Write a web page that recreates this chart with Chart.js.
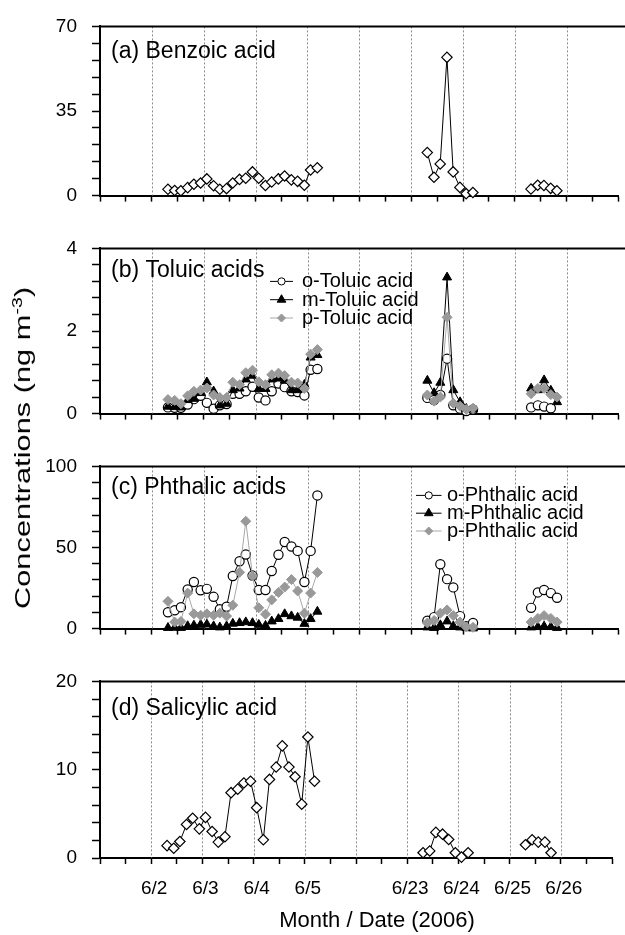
<!DOCTYPE html>
<html>
<head>
<meta charset="utf-8">
<title>Aromatic acids</title>
<script src="https://cdn.jsdelivr.net/npm/chart.js@4.4.1/dist/chart.umd.min.js"></script>
<style>
html, body { margin:0; padding:0; background:#ffffff; overflow:hidden; width:625px; height:935px; }
#fig { position:relative; width:625px; height:935px; overflow:hidden; background:#fff; font-family:"Liberation Sans", Arial, Helvetica, sans-serif; color:#000; }
.panel { position:absolute; left:0; width:625px; }
#ytitle { position:absolute; left:23px; top:448px; font-size:22px; line-height:24px; white-space:nowrap; transform: translate(-50%,-50%) rotate(-90deg) scaleX(1.4); }
#ytitle sup { font-size:14px; line-height:0; vertical-align: 8px; }
#xtitle { position:absolute; left:377px; top:907px; font-size:22px; line-height:26px; white-space:nowrap; transform: translateX(-50%); }
</style>
</head>
<body>
<div id="fig">
  <div class="panel" style="top:0px;height:222px"><canvas id="pa"></canvas></div>
  <div class="panel" style="top:222px;height:218px"><canvas id="pb"></canvas></div>
  <div class="panel" style="top:440px;height:215px"><canvas id="pc"></canvas></div>
  <div class="panel" style="top:655px;height:280px"><canvas id="pd"></canvas></div>
  <div id="ytitle">Concentrations (ng m<sup>-3</sup>)</div>
  <div id="xtitle">Month / Date (2006)</div>
</div>
<script>
// ---------------- data ----------------
const dayTickLabels = ['', '6/2', '6/3', '6/4', '6/5', '', '6/23', '6/24', '6/25', '6/26', ''];
const dayGridLines = [1, 2, 3, 4, 5, 6, 7, 8, 9];

// sampling times (axis units: 1 = 6/2, 6 = 6/23)
const timesJune2to5 = [1.31, 1.44, 1.56, 1.69, 1.81, 1.94, 2.06, 2.19, 2.31, 2.44, 2.56, 2.69, 2.81, 2.94, 3.06, 3.19, 3.31, 3.44, 3.56, 3.69, 3.81, 3.94, 4.06, 4.19];
const timesJune23 = [6.31, 6.44, 6.56, 6.69, 6.81, 6.94, 7.06, 7.19];
const timesJune25 = [8.31, 8.44, 8.56, 8.69, 8.81];

// y tick labels
const benzoicTicks = [0, 35, 70];
const toluicTicks = [0, 2, 4];
const phthalicTicks = [0, 50, 100];
const salicylicTicks = [0, 10, 20];

// (a) Benzoic acid
const benzoicEarly = [2.6, 2.1, 2.0, 3.3, 4.7, 5.2, 6.9, 4.1, 2.6, 2.9, 5.2, 6.7, 7.2, 9.8, 7.2, 4.2, 5.6, 6.9, 8.1, 6.5, 5.9, 4.3, 10.6, 11.5];
const benzoicJun23 = [17.8, 7.6, 13.1, 57.2, 9.8, 3.4, 0.8, 1.3];
const benzoicJun25 = [2.7, 4.3, 4.2, 3.0, 2.0];

// (b) Toluic acids
const oToluicEarly = [0.15, 0.14, 0.14, 0.22, 0.35, 0.43, 0.26, 0.12, 0.2, 0.23, 0.48, 0.48, 0.54, 0.65, 0.39, 0.32, 0.54, 0.73, 0.64, 0.54, 0.52, 0.44, 1.06, 1.08];
const mToluicEarly = [0.17, 0.16, 0.15, 0.33, 0.36, 0.5, 0.76, 0.54, 0.2, 0.24, 0.57, 0.61, 0.83, 0.92, 0.6, 0.6, 0.83, 0.85, 0.8, 0.57, 0.57, 0.7, 1.36, 1.42];
const pToluicEarly = [0.34, 0.32, 0.24, 0.43, 0.54, 0.57, 0.62, 0.45, 0.39, 0.39, 0.76, 0.70, 0.99, 1.05, 0.77, 0.70, 0.94, 0.98, 0.92, 0.76, 0.74, 0.61, 1.44, 1.55];
const oToluicJun23 = [0.38, 0.33, 0.45, 1.33, 0.2, 0.12, 0.06, 0.1];
const mToluicJun23 = [0.8, 0.5, 0.75, 3.3, 0.57, 0.28, 0.12, 0.1];
const pToluicJun23 = [0.45, 0.3, 0.4, 2.33, 0.25, 0.18, 0.1, 0.13];
const oToluicJun25 = [0.15, 0.2, 0.17, 0.13, null];
const mToluicJun25 = [0.61, 0.57, 0.81, 0.56, 0.28];
const pToluicJun25 = [0.48, 0.61, 0.61, 0.46, 0.4];

// (c) Phthalic acids
const oPhthalicEarly = [10.1, 11.3, 13.2, 24.1, 28.7, 23.6, 24.5, 19.6, 11.9, 13.5, 32.4, 41.5, 45.7, 32.7, 23.8, 23.8, 35.5, 45.5, 53.4, 50.6, 47.9, 28.7, 47.9, 82.1];
const mPhthalicEarly = [0.5, 0.6, 0.5, 1.6, 2.0, 2.4, 2.6, 1.5, 0.8, 1.5, 3.1, 3.5, 4.0, 3.5, 2.4, 1.8, 4.5, 6.0, 9.0, 7.7, 6.8, 3.0, 6.0, 10.5];
const pPhthalicEarly = [16.8, 4.0, 4.4, 21.9, 9.1, 8.2, 9.1, 8.2, 9.5, 7.7, 14.4, 34.7, 66.2, 32.4, 12.8, 8.9, 17.7, 22.3, 25.6, 30.2, 23.2, 9.5, 21.9, 34.6];
const oPhthalicJun23 = [4.9, 7.1, 39.7, 30.5, 25.4, 7.7, 1.5, 3.5];
const mPhthalicJun23 = [0.8, 0.5, 2.2, 4.5, 1.5, 0.8, 0.4, 0.2];
const pPhthalicJun23 = [3.5, 5, 9.5, 11.5, 8, 4, 1, 0.8];
const oPhthalicJun25 = [12.8, 22.3, 23.8, 21.9, 19.0];
const mPhthalicJun25 = [0.8, 1.0, 1.4, 1.0, 0.5];
const pPhthalicJun25 = [4, 6.3, 8, 6.3, 4];

// (d) Salicylic acid
const salicylicEarly = [1.4, 1.1, 1.87, 3.8, 4.5, 3.3, 4.6, 3.0, 1.8, 2.4, 7.4, 7.8, 8.5, 8.7, 5.7, 2.06, 8.9, 10.3, 12.7, 10.3, 9.2, 6.1, 13.7, 8.7];
const salicylicJun23 = [0.6, 0.8, 2.9, 2.7, 2.1, 0.6, 0.1, 0.6];
const salicylicJun25 = [1.5, 2.06, 1.8, 1.8, 0.6];

// ---------------- styling ----------------
const FONT = "'Liberation Sans', Arial, Helvetica, sans-serif";
Chart.defaults.font.family = FONT;
Chart.defaults.color = '#000';

const STYLE = {
  diamondOpen: {pointStyle:'rectRot', pointRadius:5.2, pointBackgroundColor:'#fff', pointBorderColor:'#000', pointBorderWidth:1.2, borderColor:'#000', borderWidth:1, order:0},
  circleOpen:  {pointStyle:'circle', pointRadius:4.6, pointBackgroundColor:'#fff', pointBorderColor:'#000', pointBorderWidth:1.2, borderColor:'#000', borderWidth:1, order:2},
  triangle:    {pointStyle:'triangle', pointRadius:5.2, pointBackgroundColor:'#000', pointBorderColor:'#000', pointBorderWidth:1, borderColor:'#000', borderWidth:1, order:1},
  diamondGray: {pointStyle:'rectRot', pointRadius:5, pointBackgroundColor:'#999999', pointBorderColor:'#999999', pointBorderWidth:1, borderColor:'#a8a8a8', borderWidth:1, order:0}
};

function toPoints(times, vals) {
  return times.map((t, i) => ({x: t, y: vals[i]}));
}
function series(label, style, row, groups) {
  return groups.map((g, gi) => Object.assign({
    label: label,
    data: toPoints(g[0], g[1]),
    fill: false, tension: 0, clip: false, spanGaps: false,
    legendRow: (row !== null && gi === 0) ? row : undefined
  }, style));
}

// ---------------- plugins ----------------
const frameGrid = {
  id: 'frameGrid',
  beforeDatasetsDraw(chart) {
    const {ctx, chartArea, scales} = chart;
    const x = scales.x;
    ctx.save();
    ctx.strokeStyle = '#8a8a8a';
    ctx.lineWidth = 1;
    ctx.setLineDash([2, 2]);
    dayGridLines.forEach(v => {
      const px = Math.round(x.getPixelForValue(v)) + 0.5;
      ctx.beginPath();
      ctx.moveTo(px, chartArea.top);
      ctx.lineTo(px, chartArea.bottom);
      ctx.stroke();
    });
    ctx.setLineDash([]);
    ctx.strokeStyle = '#000';
    ctx.lineWidth = 2;
    ctx.beginPath();
    ctx.moveTo(chartArea.left - 1, chartArea.top);
    ctx.lineTo(chart.width, chartArea.top);
    ctx.stroke();
    ctx.restore();
  }
};

function drawMarker(ctx, style, x, y, r, fill, stroke) {
  ctx.beginPath();
  if (style === 'circle') {
    ctx.arc(x, y, r, 0, Math.PI * 2);
  } else if (style === 'triangle') {
    ctx.moveTo(x, y - r);
    ctx.lineTo(x + r * 0.866, y + r * 0.5);
    ctx.lineTo(x - r * 0.866, y + r * 0.5);
    ctx.closePath();
  } else {
    ctx.moveTo(x - r, y); ctx.lineTo(x, y - r); ctx.lineTo(x + r, y); ctx.lineTo(x, y + r);
    ctx.closePath();
  }
  ctx.fillStyle = fill; ctx.fill();
  ctx.strokeStyle = stroke; ctx.lineWidth = 1; ctx.stroke();
}

const overlayText = {
  id: 'overlayText',
  afterDatasetsDraw(chart, args, o) {
    const {ctx, chartArea} = chart;
    ctx.save();
    ctx.fillStyle = '#000';
    ctx.textAlign = 'left';
    ctx.textBaseline = 'alphabetic';
    ctx.font = o.titleSize + 'px ' + FONT;
    ctx.fillText(o.title, o.titleX, chartArea.top + o.titleBase);
    if (o.legend) {
      const L = o.legend;
      ctx.font = L.size + 'px ' + FONT;
      chart.data.datasets.filter(d => d.legendRow !== undefined).forEach(d => {
        const base = chartArea.top + L.base + d.legendRow * L.step;
        const cy = base - 6;
        ctx.strokeStyle = d.borderColor; ctx.lineWidth = 1;
        ctx.beginPath(); ctx.moveTo(L.x1, cy); ctx.lineTo(L.x2, cy); ctx.stroke();
        const r = d.pointStyle === 'circle' ? 3.6 : (d.pointStyle === 'triangle' ? 5 : 4);
        drawMarker(ctx, d.pointStyle, (L.x1 + L.x2) / 2, cy, r, d.pointBackgroundColor, d.pointBorderColor);
        ctx.fillStyle = '#000';
        ctx.fillText(d.label, L.tx, base);
      });
    }
    ctx.restore();
  }
};

// ---------------- charts ----------------
function makePanel(id, cfg) {
  const yMax = cfg.yTicks[cfg.yTicks.length - 1];
  return new Chart(document.getElementById(id), {
    type: 'line',
    data: { datasets: cfg.datasets },
    options: {
      responsive: true, maintainAspectRatio: false, animation: false, devicePixelRatio: 1,
      events: [],
      layout: { padding: { top: cfg.padTop, left: 0, right: 0, bottom: 0 } },
      plugins: { legend: { display: false }, tooltip: { enabled: false }, overlayText: cfg.overlay },
      scales: {
        x: {
          type: 'linear', min: 0, max: 10,
          afterFit: s => { s.height = cfg.xHeight; },
          ticks: { stepSize: 0.5, autoSkip: false, maxRotation: 0, display: cfg.xLabels, padding: 13, labelOffset: 3,
                   font: { size: 19, family: FONT }, color: '#000',
                   callback: v => Number.isInteger(v) ? dayTickLabels[v] : '' },
          grid: { drawOnChartArea: false, drawTicks: true, tickLength: 6, tickColor: '#000', tickWidth: 1.5 },
          border: { display: true, color: '#000', width: 2 }
        },
        y: {
          type: 'linear', min: 0, max: yMax,
          afterFit: s => { s.width = 100; },
          ticks: { stepSize: yMax / 10, autoSkip: false, padding: 15,
                   font: { size: 19, family: FONT }, color: '#000',
                   callback: v => cfg.yTicks.some(t => Math.abs(t - v) < 1e-6) ? String(+(+v).toFixed(4)) : '' },
          grid: { drawOnChartArea: false, drawTicks: true, tickLength: 8, tickColor: '#000', tickWidth: 1.5 },
          border: { display: true, color: '#000', width: 2 }
        }
      }
    },
    plugins: [frameGrid, overlayText]
  });
}

makePanel('pa', {
  padTop: 24, xHeight: 19, xLabels: false, yTicks: benzoicTicks,
  overlay: { title: '(a) Benzoic acid', titleX: 111, titleBase: 32, titleSize: 23 },
  datasets: series('Benzoic acid', STYLE.diamondOpen, null, [
    [timesJune2to5, benzoicEarly], [timesJune23, benzoicJun23], [timesJune25, benzoicJun25]])
});

makePanel('pb', {
  padTop: 17.3, xHeight: 19, xLabels: false, yTicks: toluicTicks,
  overlay: { title: '(b) Toluic acids', titleX: 111, titleBase: 29, titleSize: 23,
             legend: { x1: 270, x2: 293, tx: 302, base: 39, step: 18.3, size: 20 } },
  datasets: [].concat(
    series('o-Toluic acid', STYLE.circleOpen, 0, [[timesJune2to5, oToluicEarly], [timesJune23, oToluicJun23], [timesJune25, oToluicJun25]]),
    series('m-Toluic acid', STYLE.triangle, 1, [[timesJune2to5, mToluicEarly], [timesJune23, mToluicJun23], [timesJune25, mToluicJun25]]),
    series('p-Toluic acid', STYLE.diamondGray, 2, [[timesJune2to5, pToluicEarly], [timesJune23, pToluicJun23], [timesJune25, pToluicJun25]]))
});

makePanel('pc', {
  padTop: 16.7, xHeight: 16, xLabels: false, yTicks: phthalicTicks,
  overlay: { title: '(c) Phthalic acids', titleX: 111, titleBase: 27.5, titleSize: 23,
             legend: { x1: 416, x2: 441.5, tx: 447, base: 35, step: 17.8, size: 20 } },
  datasets: [].concat(
    series('o-Phthalic acid', STYLE.circleOpen, 0, [[timesJune2to5, oPhthalicEarly], [timesJune23, oPhthalicJun23], [timesJune25, oPhthalicJun25]]),
    series('m-Phthalic acid', STYLE.triangle, 1, [[timesJune2to5, mPhthalicEarly], [timesJune23, mPhthalicJun23], [timesJune25, mPhthalicJun25]]),
    series('p-Phthalic acid', STYLE.diamondGray, 2, [[timesJune2to5, pPhthalicEarly], [timesJune23, pPhthalicJun23], [timesJune25, pPhthalicJun25]]))
});

makePanel('pd', {
  padTop: 21, xHeight: 77, xLabels: true, yTicks: salicylicTicks,
  overlay: { title: '(d) Salicylic acid', titleX: 111, titleBase: 34, titleSize: 23 },
  datasets: series('Salicylic acid', STYLE.diamondOpen, null, [
    [timesJune2to5, salicylicEarly], [timesJune23, salicylicJun23], [timesJune25, salicylicJun25]])
});
</script>
</body>
</html>
